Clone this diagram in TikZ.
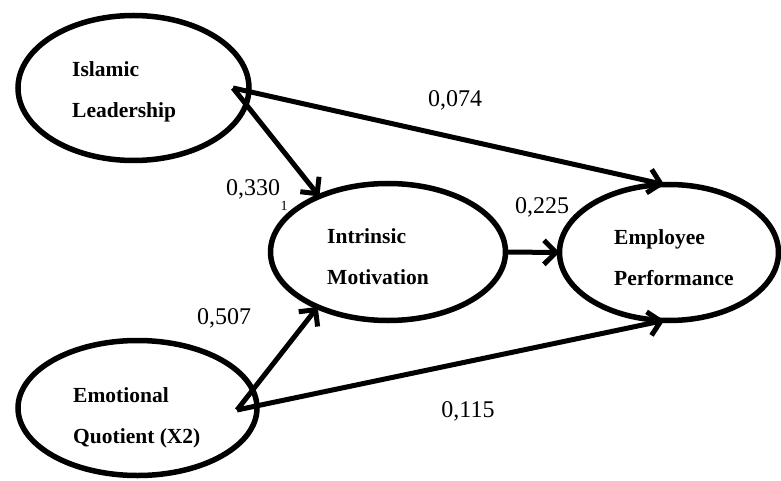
\documentclass[tikz,border=0pt]{standalone}
\usepackage{fontspec}
\setmainfont{Liberation Serif}
\usetikzlibrary{shapes.geometric,arrows.meta}

\begin{document}
\begin{tikzpicture}[x=1pt, y=1pt,
  latent/.style={shape=ellipse, draw, line width=5.5pt, inner sep=0pt, outer sep=0pt},
  latenttext/.style={anchor=base west, align=left, inner sep=0pt,
    font=\fontsize{21.5}{41}\selectfont\bfseries},
  effect/.style={line width=5pt, -{Straight Barb[length=12pt,width=24pt]}},
  coef/.style={anchor=base, inner sep=0pt, font=\fontsize{24}{24}\selectfont}]
  \useasboundingbox (0,0) rectangle (781,480);
  % constructs
  \node[name=il, latent, minimum width=231pt, minimum height=145pt] at (133.5,392) {};
  \node[name=im, latent, minimum width=235pt, minimum height=137pt] at (388,228) {};
  \node[name=ep, latent, minimum width=219pt, minimum height=136pt] at (669,227.5) {};
  \node[name=eq, latent, minimum width=239pt, minimum height=135pt] at (137.5,72) {};
  \node[name=il-t, latenttext] at (72,362) {Islamic\\Leadership};
  \node[name=im-t, latenttext] at (327,196) {Intrinsic\\Motivation};
  \node[name=ep-t, latenttext] at (614,195) {Employee\\Performance};
  \node[name=eq-t, latenttext] at (73,37) {Emotional\\Quotient (X2)};
  % paths
  \coordinate (il-o) at (233,392);
  \coordinate (eq-o) at (237,70);
  \draw[effect] (il-o) -- (im.141);
  \draw[effect] (il-o) -- (ep.94);
  \draw[effect] (eq-o) -- (im.218);
  \draw[effect] (eq-o) -- (ep.266);
  \draw[effect] (im.east) -- (ep.west);
  % coefficients
  \foreach \nm/\pos/\val in
    { w-il-ep/{(455,373)}/{0,074}, w-il-im/{(253,285)}/{0,330},
      w-im-ep/{(542,267)}/{0,225}, w-eq-im/{(224,156)}/{0,507},
      w-eq-ep/{(468,63)}/{0,115}}
  \node[name=\nm, coef] at \pos {\val};
  \node[name=w-sub, coef, font=\fontsize{14}{14}\selectfont] at (284,270) {1};
\end{tikzpicture}
\end{document}
